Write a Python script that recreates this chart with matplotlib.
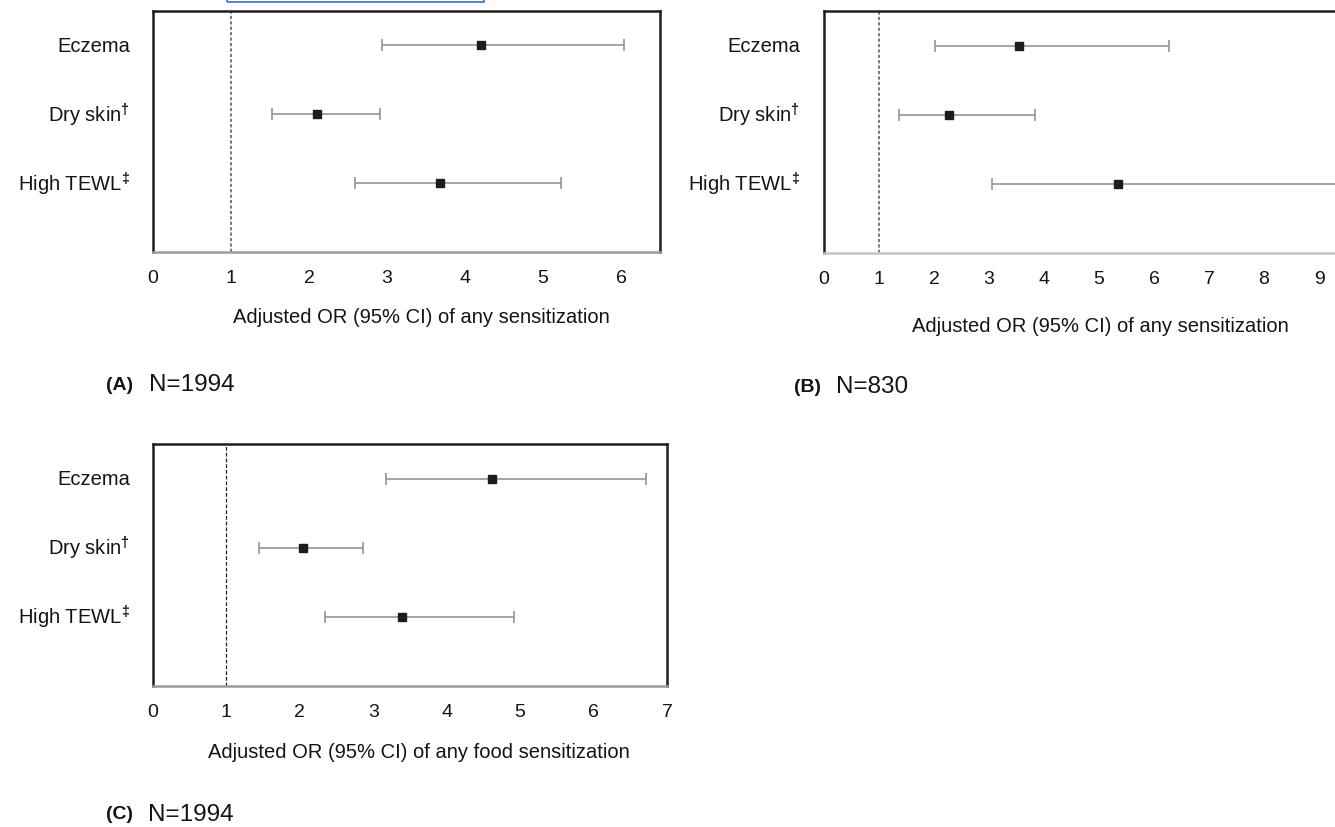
"""Forest plots of adjusted OR for skin barrier measures (three panels)."""
import matplotlib
matplotlib.use("Agg")
import matplotlib.pyplot as plt
from matplotlib.patches import Rectangle

plt.rcParams["font.family"] = ["Liberation Sans", "DejaVu Sans"]
plt.rcParams["mathtext.fontset"] = "custom"
plt.rcParams["mathtext.rm"] = "Liberation Sans"
plt.rcParams["mathtext.bf"] = "Liberation Sans:bold"

# --- data -------------------------------------------------------------
categories = ["Eczema", "Dry skin", "High TEWL"]
marks = ["", "†", "‡"]

or_a = [4.21, 2.10, 3.68]
lo_a = [2.94, 1.53, 2.59]
hi_a = [6.04, 2.91, 5.23]

or_b = [3.55, 2.27, 5.35]
lo_b = [2.02, 1.36, 3.05]
hi_b = [6.27, 3.84, 9.60]

or_c = [4.61, 2.04, 3.39]
lo_c = [3.17, 1.44, 2.34]
hi_c = [6.72, 2.86, 4.92]

ticks_a = [0, 1, 2, 3, 4, 5, 6]
ticks_b = [0, 1, 2, 3, 4, 5, 6, 7, 8, 9]
ticks_c = [0, 1, 2, 3, 4, 5, 6, 7]

xlabel_any = "Adjusted OR (95% CI) of any sensitization"
xlabel_food = "Adjusted OR (95% CI) of any food sensitization"

W, H = 1335, 828
_BAR = "#8c8c8c"
_PT = "#1c1c1c"
_TXT = "#141414"


def _rect(left, top, right, bottom):
    return [left / W, 1 - bottom / H, (right - left) / W, (bottom - top) / H]


def forest(fig, rect, ors, los, his, xmax, ticks, label_x, bottom_col,
           ref_style):
    ax = fig.add_axes(rect)
    ypos = list(range(len(categories)))
    err = [[o - l for o, l in zip(ors, los)], [h - o for o, h in zip(ors, his)]]
    ax.errorbar(ors, ypos, xerr=err, fmt="none", ecolor=_BAR, elinewidth=1.1,
                capsize=4, capthick=1.1, zorder=2)
    ax.plot(ors, ypos, "s", color=_PT, ms=6, zorder=3)
    ax.axvline(1, zorder=1, **ref_style)
    ax.set_xlim(0, xmax)
    ax.set_ylim(3.0, -0.5)
    ax.set_xticks(ticks)
    ax.set_yticks([])
    ax.tick_params(axis="x", length=0, pad=12, labelsize=14, colors=_TXT)
    for s in ("left", "top", "right"):
        ax.spines[s].set_linewidth(1.8)
        ax.spines[s].set_color("#1e1e1e")
    ax.spines["bottom"].set_linewidth(1.8)
    ax.spines["bottom"].set_color(bottom_col)
    tr = ax.get_yaxis_transform()
    for y, name, mk in zip(ypos, categories, marks):
        txt = name if not mk else name + r"$^{\mathbf{" + mk + "}}$"
        ax.text(label_x, y, txt, transform=tr, ha="right", va="center",
                fontsize=14.5, color=_TXT)
    return ax


fig = plt.figure(figsize=(W / 100, H / 100), dpi=100)

ref_grey = dict(color="#707070", lw=1.3, ls=(0, (1.8, 1.2)))
ref_black = dict(color="#222222", lw=0.9, ls=(0, (3, 1.6)))

# A
forest(fig, _rect(153, 12, 660, 253), or_a, lo_a, hi_a, 6.5, ticks_a,
       -23 / 507, "#9c9c9c", ref_grey)
fig.text(421 / W, 1 - 318 / H, xlabel_any, ha="center", va="center",
         fontsize=14.5, color=_TXT)
# B (runs off the right edge, as in the source)
forest(fig, _rect(824, 12, 1374, 254), or_b, lo_b, hi_b, 10, ticks_b,
       -24 / 550, "#c4c4c4", ref_grey)
fig.text(1100 / W, 1 - 327 / H, xlabel_any, ha="center", va="center",
         fontsize=14.5, color=_TXT)
# C
forest(fig, _rect(153, 445, 667, 687), or_c, lo_c, hi_c, 7, ticks_c,
       -23 / 514, "#9c9c9c", ref_black)
fig.text(419 / W, 1 - 753 / H, xlabel_food, ha="center", va="center",
         fontsize=14.5, color=_TXT)

for x0, x1, y, tag, n in [(106, 149, 385, "(A)", "N=1994"),
                          (794, 836, 387, "(B)", "N=830"),
                          (106, 148, 815, "(C)", "N=1994")]:
    fig.text(x0 / W, 1 - y / H, tag, ha="left", va="center", fontsize=14,
             fontweight="bold", color=_TXT)
    fig.text(x1 / W, 1 - y / H, n, ha="left", va="center", fontsize=17.5,
             color=_TXT)

# leftover selection box along the top edge
fig.patches.append(Rectangle((227 / W, 1 - 2.5 / H), 257 / W, 10 / H,
                             transform=fig.transFigure, fill=False,
                             edgecolor="#3d6fc2", lw=1.2))

fig.savefig("out.png", dpi=100, facecolor="white")
